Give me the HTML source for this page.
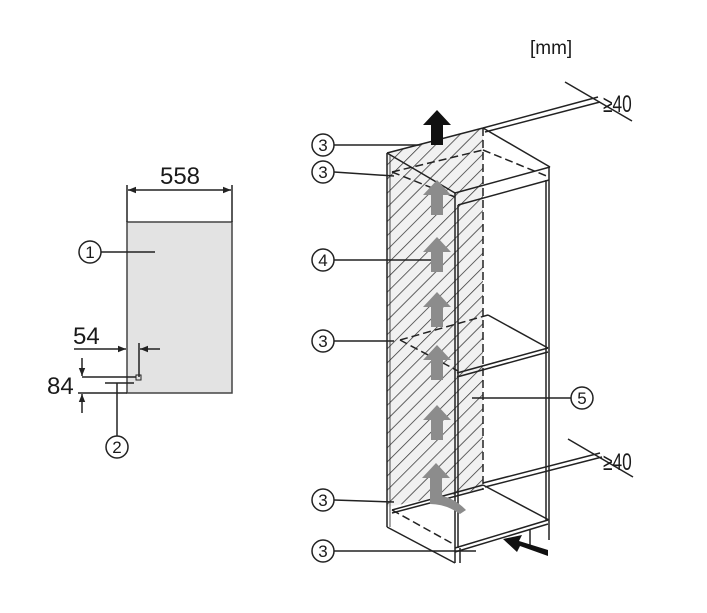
<!DOCTYPE html>
<html><head><meta charset="utf-8"><style>
html,body{margin:0;padding:0;background:#fff}
svg{display:block}
text{font-family:"Liberation Sans",sans-serif;fill:#1a1a1a}
</style></head><body>
<svg width="707" height="613" viewBox="0 0 707 613" xmlns="http://www.w3.org/2000/svg">
<defs>
<pattern id="h" patternUnits="userSpaceOnUse" width="10" height="10" patternTransform="rotate(-45)">
<rect width="10" height="10" fill="#f1f1f1"/><line x1="0" y1="0" x2="10" y2="0" stroke="#333" stroke-width="1.5"/>
</pattern>
<marker id="a" viewBox="0 0 10 10" refX="10" refY="5" markerWidth="11" markerHeight="8" orient="auto-start-reverse" markerUnits="userSpaceOnUse"><path d="M0,1 L10,5 L0,9z" fill="#222"/></marker>
</defs>
<g stroke="#222" stroke-width="1.5" fill="none">
<rect x="127" y="222" width="105" height="171" fill="#e3e3e3" stroke="#444"/>
<line x1="127" y1="185" x2="127" y2="222"/><line x1="232" y1="185" x2="232" y2="222"/>
<line x1="128" y1="190" x2="231" y2="190" marker-start="url(#a)" marker-end="url(#a)"/>
<line x1="101" y1="252" x2="155" y2="252"/>
<line x1="74" y1="349" x2="126" y2="349" marker-end="url(#a)"/>
<line x1="160" y1="349" x2="140" y2="349" marker-end="url(#a)"/>
<line x1="139" y1="343" x2="139" y2="377"/>
<rect x="136" y="375" width="5" height="5" stroke-width="1"/>
<line x1="82" y1="377" x2="136" y2="377"/>
<line x1="105" y1="383" x2="134" y2="383"/>
<line x1="78" y1="393" x2="127" y2="393"/>
<line x1="82" y1="358" x2="82" y2="376" marker-end="url(#a)"/>
<line x1="82" y1="413" x2="82" y2="394" marker-end="url(#a)"/>
<line x1="117" y1="383" x2="117" y2="436"/>
<circle cx="90" cy="252" r="11"/><circle cx="117" cy="447" r="11"/>
<polygon points="387,153 483,128 483,489 387,507" fill="url(#h)" stroke="none"/>
<line x1="387" y1="153" x2="387" y2="527"/>
<line x1="390" y1="155" x2="390" y2="527" stroke-width="0.8"/>
<line x1="387" y1="153" x2="483" y2="128"/>
<line x1="387" y1="153" x2="455" y2="193"/>
<line x1="455" y1="193" x2="455" y2="563"/>
<line x1="458" y1="205" x2="458" y2="548"/>
<line x1="387" y1="527" x2="455" y2="563"/>
<line x1="483" y1="128" x2="550" y2="167"/>
<line x1="455" y1="193" x2="550" y2="167"/>
<line x1="458" y1="205" x2="549" y2="180"/>
<line x1="549" y1="167" x2="549" y2="540"/>
<line x1="546" y1="180" x2="546" y2="520"/>
<line x1="483" y1="128" x2="483" y2="490" stroke-dasharray="8,4"/>
<line x1="392" y1="172" x2="483" y2="150" stroke-dasharray="8,4"/>
<line x1="483" y1="150" x2="549" y2="177" stroke-dasharray="8,4"/>
<line x1="392" y1="172" x2="455" y2="197" stroke-dasharray="8,4"/>
<line x1="488" y1="315" x2="548" y2="348"/>
<line x1="457" y1="373" x2="548" y2="348"/>
<line x1="457" y1="377" x2="548" y2="352"/>
<line x1="400" y1="340" x2="488" y2="315" stroke-dasharray="8,4"/>
<line x1="400" y1="340" x2="458" y2="371" stroke-dasharray="8,4"/>
<line x1="455" y1="548" x2="548" y2="520"/>
<line x1="455" y1="552" x2="548" y2="524"/>
<line x1="483" y1="485" x2="549" y2="520"/>
<line x1="392" y1="510" x2="483" y2="485"/>
<line x1="392" y1="513" x2="483" y2="489"/>
<line x1="392" y1="510" x2="455" y2="545" stroke-dasharray="8,4"/>
<line x1="530" y1="530" x2="530" y2="548"/>
<line x1="460" y1="563" x2="460" y2="548"/>
<line x1="483" y1="128" x2="598" y2="97"/>
<line x1="485" y1="132" x2="600" y2="102"/>
<line x1="565" y1="82" x2="632" y2="121"/>
<line x1="483" y1="483" x2="600" y2="453"/>
<line x1="485" y1="487" x2="602" y2="457"/>
<line x1="568" y1="439" x2="633" y2="477"/>
<line x1="334" y1="145" x2="420" y2="145"/>
<line x1="334" y1="172" x2="394" y2="176"/>
<line x1="334" y1="260" x2="437" y2="260"/>
<line x1="334" y1="341" x2="394" y2="341"/>
<line x1="334" y1="500" x2="394" y2="502"/>
<line x1="334" y1="551" x2="476" y2="551"/>
<line x1="472" y1="398" x2="571" y2="398"/>
<circle cx="323" cy="145" r="11"/><circle cx="323" cy="172" r="11"/>
<circle cx="323" cy="260" r="11"/><circle cx="323" cy="341" r="11"/>
<circle cx="323" cy="500" r="11"/><circle cx="323" cy="551" r="11"/>
<circle cx="582" cy="398" r="11"/>
</g>
<g fill="#8c8c8c">
<path d="M431,215 v-20 h-8 l14,-15 l14,15 h-8 v20z"/>
<path d="M431,272 v-20 h-8 l14,-15 l14,15 h-8 v20z"/>
<path d="M431,327 v-20 h-8 l14,-15 l14,15 h-8 v20z"/>
<path d="M431,380 v-20 h-8 l14,-15 l14,15 h-8 v20z"/>
<path d="M431,440 v-20 h-8 l14,-15 l14,15 h-8 v20z"/>
<path d="M466,510 q-12,-12 -24,-14 v-18 h8 l-14,-15 l-14,15 h8 v26 q16,0 30,10z"/>
</g>
<path d="M431,145 v-20 h-8 l14,-15 l14,15 h-8 v20z" fill="#111"/>
<path d="M548,556 l-28,-10 l-3,6 l-14,-13 l19,-4 l-3,6 l29,9z" fill="#111"/>
<g font-size="17">
<text x="90" y="258" text-anchor="middle">1</text>
<text x="117" y="453" text-anchor="middle">2</text>
<text x="323" y="151" text-anchor="middle">3</text>
<text x="323" y="178" text-anchor="middle">3</text>
<text x="323" y="266" text-anchor="middle">4</text>
<text x="323" y="347" text-anchor="middle">3</text>
<text x="323" y="506" text-anchor="middle">3</text>
<text x="323" y="557" text-anchor="middle">3</text>
<text x="582" y="404" text-anchor="middle">5</text>
</g>
<text x="180" y="184" font-size="24" text-anchor="middle">558</text>
<text x="73" y="344" font-size="24">54</text>
<text x="47" y="394" font-size="24">84</text>
<text x="530" y="54" font-size="19">[mm]</text>
<text x="603" y="112" font-size="24" transform="translate(603,112) scale(0.72,1) translate(-603,-112)">≥40</text>
<text x="603" y="470" font-size="24" transform="translate(603,470) scale(0.72,1) translate(-603,-470)">≥40</text>
</svg>
</body></html>
